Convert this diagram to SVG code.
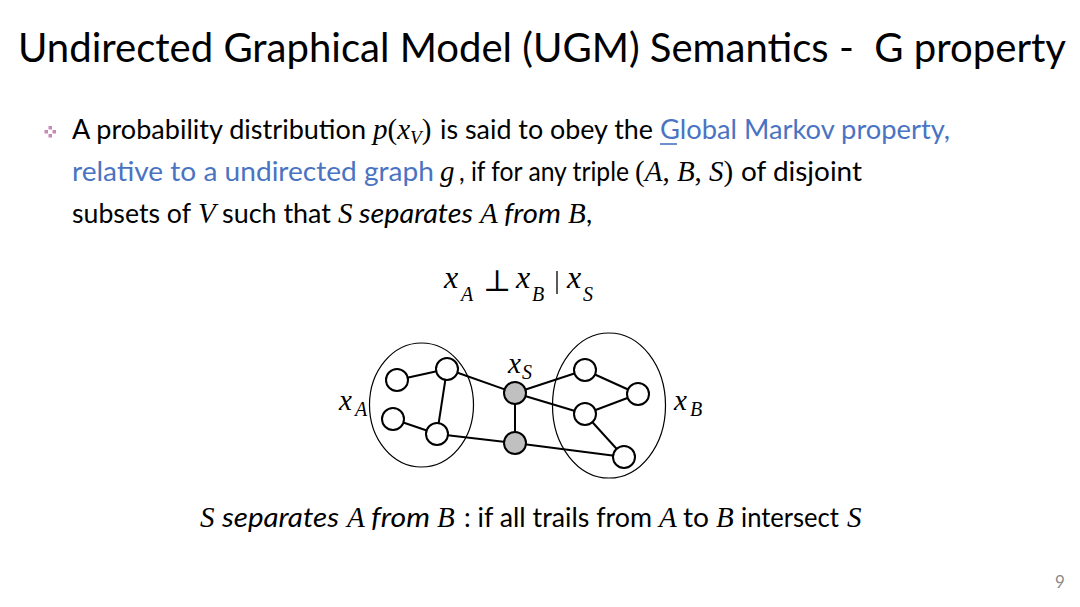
<svg xmlns="http://www.w3.org/2000/svg" width="1080" height="607" viewBox="0 0 1080 607">
<style>
.sans{font-family:Lato,"Open Sans","Liberation Sans",sans-serif;font-size:27px;fill:#000}
.sansi{font-family:Lato,"Open Sans","Liberation Sans",sans-serif;font-size:27px;font-style:italic;fill:#000}
.blue{fill:#4a74c2}
.m{font-family:"Liberation Serif","Times New Roman",serif;font-size:29px;font-style:italic;fill:#000}
.mu{font-style:normal}
.big{font-size:32px}
.sub{font-family:"Liberation Serif","Times New Roman",serif;font-size:20px;font-style:italic;fill:#000}
.node{fill:#fff;stroke:#000;stroke-width:2}
.snode{fill:#c0c0c0;stroke:#000;stroke-width:2}
.edge{stroke:#000;stroke-width:2;fill:none}
.set{fill:none;stroke:#000;stroke-width:1.2}
</style>
<rect width="1080" height="607" fill="#fff"/>
<text x="18" y="62" font-family="Lato,'Open Sans','Liberation Sans',sans-serif" font-size="41" textLength="1048" lengthAdjust="spacingAndGlyphs" fill="#000" style="white-space:pre">Undirected Graphical Model (UGM) Semantics -  G property</text>

<g id="bullet" fill="#c68ab8">
<rect x="48.5" y="126" width="3.5" height="3.5"/>
<rect x="44.5" y="130" width="3.5" height="3.5"/>
<rect x="52.5" y="130" width="3.5" height="3.5"/>
<rect x="48.5" y="134" width="3.5" height="3.5"/>
</g>

<g id="line1">
<text class="sans" x="72" y="139" textLength="294" lengthAdjust="spacingAndGlyphs">A probability distribution</text>
<text class="m" x="373" y="139">p<tspan class="mu">(</tspan>x<tspan font-size="19" dy="5">V</tspan><tspan class="mu" dy="-5">)</tspan></text>
<text class="sans" x="440" y="139" textLength="213" lengthAdjust="spacingAndGlyphs">is said to obey the</text>
<text class="sans blue" x="660" y="139" textLength="290" lengthAdjust="spacingAndGlyphs">Global Markov property,</text>
<line x1="660" y1="144" x2="677" y2="144" stroke="#4a74c2" stroke-width="1.6"/>
</g>

<g id="line2">
<text class="sans blue" x="72" y="181" textLength="362" lengthAdjust="spacingAndGlyphs">relative to a undirected graph</text>
<text class="m blue" x="440" y="181">g</text>
<text class="sans" x="459" y="181"><tspan textLength="170" lengthAdjust="spacingAndGlyphs">, if for any triple</tspan><tspan class="m" x="635"><tspan class="mu">(</tspan>A<tspan class="mu">, </tspan>B<tspan class="mu">, </tspan>S<tspan class="mu">)</tspan></tspan><tspan x="741" textLength="121" lengthAdjust="spacingAndGlyphs">of disjoint</tspan></text>
</g>

<g id="line3">
<text class="sans" x="72" y="223" textLength="119" lengthAdjust="spacingAndGlyphs">subsets of</text>
<text class="m" x="198" y="223">V</text>
<text class="sans" x="222" y="223" textLength="109" lengthAdjust="spacingAndGlyphs">such that</text>
<text class="m" x="338" y="223">S</text>
<text class="sansi" x="359" y="223" textLength="114" lengthAdjust="spacingAndGlyphs">separates</text>
<text class="m" x="480" y="223">A</text>
<text class="sansi" x="504" y="223" textLength="57" lengthAdjust="spacingAndGlyphs">from</text>
<text class="m" x="568" y="223">B</text>
<text class="sans" x="586" y="223">,</text>
</g>

<g id="formula">
<text class="m big" x="444" y="288">x</text>
<text class="sub" x="461" y="301">A</text>
<text x="483" y="291" font-family="'DejaVu Serif','DejaVu Sans',serif" font-size="30" fill="#000">⊥</text>
<text class="m big" x="516" y="288">x</text>
<text class="sub" x="532" y="301">B</text>
<line x1="557" y1="271" x2="557" y2="294" stroke="#000" stroke-width="1.3"/>
<text class="m big" x="567" y="288">x</text>
<text class="sub" x="583" y="301">S</text>
</g>

<g id="sets">
<ellipse id="setA" class="set" cx="421.5" cy="405" rx="52" ry="62"/>
<ellipse id="setB" class="set" cx="609" cy="405.5" rx="56.5" ry="72.5"/>
</g>

<g id="connectors">
<line class="edge" x1="397" y1="380" x2="447" y2="369"/>
<line class="edge" x1="447" y1="369" x2="437" y2="434"/>
<line class="edge" x1="393" y1="419" x2="437" y2="434"/>
<line class="edge" x1="447" y1="369" x2="515" y2="393"/>
<line class="edge" x1="437" y1="434" x2="515" y2="443"/>
<line class="edge" x1="515" y1="393" x2="515" y2="443"/>
<line class="edge" x1="515" y1="393" x2="585" y2="370"/>
<line class="edge" x1="515" y1="393" x2="585" y2="414"/>
<line class="edge" x1="585" y1="370" x2="638" y2="394"/>
<line class="edge" x1="585" y1="414" x2="638" y2="394"/>
<line class="edge" x1="585" y1="414" x2="624" y2="457"/>
<line class="edge" x1="515" y1="443" x2="624" y2="457"/>
</g>

<g id="nA1"><circle class="node" cx="397" cy="380" r="11"/></g>
<g id="nA2"><circle class="node" cx="447" cy="369" r="11"/></g>
<g id="nA3"><circle class="node" cx="393" cy="419" r="11"/></g>
<g id="nA4"><circle class="node" cx="437" cy="434" r="11"/></g>
<g id="nS1"><circle class="snode" cx="515" cy="393" r="11"/></g>
<g id="nS2"><circle class="snode" cx="515" cy="443" r="11"/></g>
<g id="nB1"><circle class="node" cx="585" cy="370" r="11"/></g>
<g id="nB2"><circle class="node" cx="638" cy="394" r="11"/></g>
<g id="nB3"><circle class="node" cx="585" cy="414" r="11"/></g>
<g id="nB4"><circle class="node" cx="624" cy="457" r="11"/></g>

<g id="labels">
<text class="m" x="339" y="410" font-size="28">x</text>
<text class="sub" x="355" y="416" font-size="18">A</text>
<text class="m" x="508" y="373" font-size="28">x</text>
<text class="sub" x="522" y="379" font-size="18">S</text>
<text class="m" x="674" y="410" font-size="28">x</text>
<text class="sub" x="690" y="416" font-size="18">B</text>
</g>

<g id="caption">
<text class="m" x="200" y="527">S</text>
<text class="sansi" x="222" y="527" textLength="117" lengthAdjust="spacingAndGlyphs">separates</text>
<text class="m" x="347" y="527">A</text>
<text class="sansi" x="371" y="527" textLength="59" lengthAdjust="spacingAndGlyphs">from</text>
<text class="m" x="437" y="527">B</text>
<text class="sans" x="464" y="527" textLength="188" lengthAdjust="spacingAndGlyphs">: if all trails from</text>
<text class="m" x="659" y="527">A</text>
<text class="sans" x="683" y="527" textLength="26" lengthAdjust="spacingAndGlyphs">to</text>
<text class="m" x="716" y="527">B</text>
<text class="sans" x="741" y="527" textLength="98" lengthAdjust="spacingAndGlyphs">intersect</text>
<text class="m" x="847" y="527">S</text>
</g>

<text x="1055" y="588" font-family="Lato,'Open Sans',sans-serif" font-size="17" fill="#8c8c8c">9</text>
</svg>
